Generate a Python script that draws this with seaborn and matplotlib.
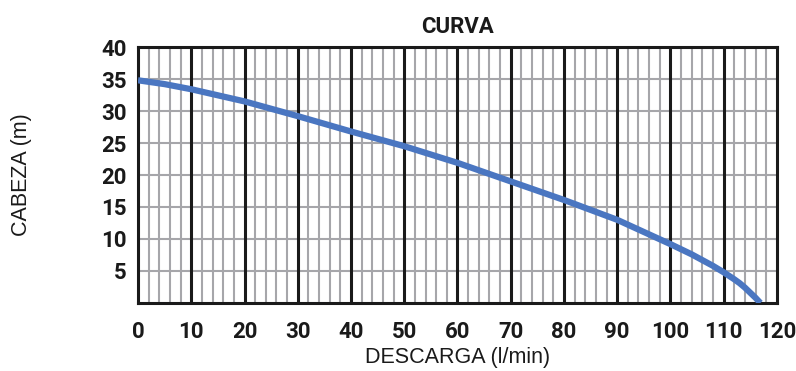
import numpy as np
import pandas as pd
import matplotlib
matplotlib.use("Agg")
import matplotlib.pyplot as plt
import seaborn as sns

# pump curve
descarga = [0, 5, 10, 20, 30, 40, 50, 60, 70, 80, 90, 95, 100, 102, 104, 106, 108, 110,
            112, 113, 114, 115, 116, 116.9]
cabeza = [34.8, 34.2, 33.4, 31.5, 29.2, 26.8, 24.5, 21.9, 19.0, 16.1, 13.0, 11.1, 9.2,
          8.4, 7.6, 6.7, 5.8, 4.8, 3.7, 3.1, 2.4, 1.6, 0.8, 0.0]

x_ticks = list(range(0, 121, 10))
y_ticks = [5, 10, 15, 20, 25, 30, 35, 40]

df = pd.DataFrame({"descarga": descarga, "cabeza": cabeza})

sns.set_style("white")
plt.rcParams["font.family"] = ["Liberation Sans", "DejaVu Sans"]
cond = ["Liberation Sans Narrow", "Roboto", "DejaVu Sans"]

fig = plt.figure(figsize=(7.96, 3.71), dpi=100)
ax = fig.add_axes([0.1734, 0.1833, 0.8026, 0.69])

# grid: grey minor verticals every 2, grey horizontals every 5, black majors every 10
for v in np.arange(2, 120, 2):
    if v % 10:
        ax.axvline(v, color="#a6a6aa", lw=1.5, zorder=1)
for h in y_ticks[:-1]:
    ax.axhline(h, color="#a6a6aa", lw=1.5, zorder=1)
for v in x_ticks[1:-1]:
    ax.axvline(v, color="#1a1a1a", lw=2.2, zorder=2)

sns.lineplot(data=df, x="descarga", y="cabeza", color="#4a76c1", lw=4.5,
             ax=ax, zorder=3, solid_capstyle="butt", solid_joinstyle="round")

ax.set_xlim(0, 120)
ax.set_ylim(0, 40)
ax.set_xticks(x_ticks)
ax.set_yticks(y_ticks)
ax.tick_params(length=0)
ax.tick_params(axis="x", pad=13)
ax.tick_params(axis="y", pad=8)
for lab in ax.get_xticklabels() + ax.get_yticklabels():
    lab.set_fontfamily(cond)
    lab.set_fontweight("bold")
    lab.set_fontsize(16)
    lab.set_color("#1a1a1a")

for s in ax.spines.values():
    s.set_visible(True)
    s.set_color("#1a1a1a")
    s.set_linewidth(2.2)

ax.set_xlabel("DESCARGA (l/min)", fontsize=15.5, color="#1a1a1a", va="center")
ax.xaxis.set_label_coords(0.5, -0.211)
ax.set_ylabel("CABEZA (m)", fontsize=15.5, color="#1a1a1a", va="center")
ax.yaxis.set_label_coords(-0.183, 0.5)
ax.set_title("CURVA", fontsize=16, fontweight="bold", fontfamily=cond,
             color="#1a1a1a", pad=10)

fig.savefig("out.png", dpi=100)
